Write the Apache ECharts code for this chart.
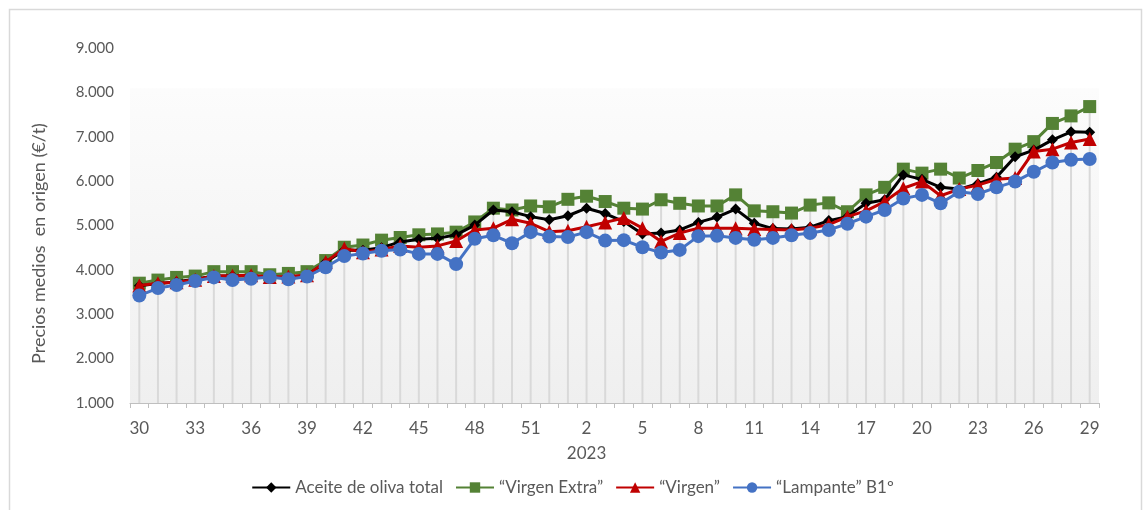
<!DOCTYPE html>
<html>
<head>
<meta charset="utf-8">
<script src="https://cdn.jsdelivr.net/npm/echarts@6/dist/echarts.min.js"></script>
<style>
  html, body { margin: 0; padding: 0; background: #fff; }
  #chart { width: 1145px; height: 510px; }
</style>
</head>
<body>
<div id="chart"></div>
<script>
// semanas (2022: 30-52, 2023: 1-29)
var weeks = ['30','31','32','33','34','35','36','37','38','39','40','41','42','43','44','45','46','47','48','49','50','51','52',
  '1','2','3','4','5','6','7','8','9','10','11','12','13','14','15','16','17','18','19','20','21','22','23','24','25','26','27','28','29'];
var yearLabel = '2023';
var yearIndex = 24; // semana 2 de 2023

var total = [3640,3690,3730,3790,3860,3860,3870,3830,3840,3880,4170,4450,4440,
  4500,4630,4690,4710,4790,5010,5350,5310,5200,5130,5220,5390,5270,
  5090,4810,4830,4900,5070,5190,5370,5050,4930,4920,4960,5110,5200,
  5500,5580,6140,6040,5860,5820,5940,6090,6550,6700,6930,7110,7100];
var virgenExtra = [3700,3770,3830,3860,3960,3960,3960,3890,3920,3960,4210,4510,4560,
  4670,4730,4790,4810,4850,5080,5390,5350,5440,5420,5590,5660,5540,
  5390,5370,5580,5500,5440,5440,5690,5330,5310,5280,5460,5510,5310,
  5690,5860,6270,6180,6270,6070,6240,6420,6720,6890,7300,7470,7680];
var virgen = [3650,3700,3720,3780,3860,3870,3880,3840,3850,3880,4180,4480,4400,
  4460,4540,4510,4540,4650,4900,4940,5140,5050,4860,4880,4970,5070,
  5170,4940,4640,4830,4940,4940,4940,4920,4910,4900,4940,5020,5200,
  5330,5540,5840,5990,5670,5820,5910,6040,6070,6670,6720,6870,6950];
var lampante = [3420,3590,3660,3750,3830,3770,3800,3840,3790,3850,4060,4310,4370,
  4430,4460,4360,4360,4130,4700,4780,4600,4850,4750,4740,4850,4660,
  4670,4510,4390,4450,4760,4770,4720,4680,4720,4780,4830,4900,5040,
  5200,5350,5610,5690,5500,5760,5710,5860,5990,6210,6420,6480,6500];

// lineas de caida: desde el maximo de cada semana
var dropLines = [];
for (var i = 0; i < weeks.length; i++) {
  dropLines[i] = Math.max(total[i], virgenExtra[i], virgen[i], lampante[i]);
}

function fmt(v) {
  return String(v).replace(/\B(?=(\d{3})+(?!\d))/g, '.');
}

var fontFam = 'Lato, "Open Sans", sans-serif';
var txtColor = '#595959';

var myChart = echarts.init(document.getElementById('chart'));
var option = {
  animation: false,
  textStyle: { fontFamily: fontFam },
  graphic: [{
    type: 'rect', left: 7, top: 7, silent: true,
    shape: { width: 1132, height: 530 },
    style: { fill: 'none', stroke: '#d9d9d9', lineWidth: 1.5 }
  }],
  grid: {
    left: 130, right: 46, top: 48, bottom: 107,
    show: true, borderWidth: 0,
    backgroundColor: {
      type: 'linear', x: 0, y: 0, x2: 0, y2: 1,
      colorStops: [
        { offset: 0, color: '#ffffff' },
        { offset: 0.112, color: '#ffffff' },
        { offset: 0.115, color: '#fcfcfc' },
        { offset: 1, color: '#efefef' }
      ]
    }
  },
  legend: {
    bottom: 9, left: 'center',
    itemWidth: 38, itemHeight: 13, itemGap: 12,
    textStyle: { color: txtColor, fontSize: 17, fontFamily: fontFam },
    data: ['Aceite de oliva total', '\u201cVirgen Extra\u201d', '\u201cVirgen\u201d', '\u201cLampante\u201d B1\u00ba']
  },
  xAxis: {
    type: 'category',
    data: weeks,
    boundaryGap: true,
    axisLine: { lineStyle: { color: '#bfbfbf', width: 1 } },
    axisTick: { show: true, interval: 0, length: 5, lineStyle: { color: '#bfbfbf' } },
    axisLabel: {
      interval: 2, color: txtColor, fontSize: 17, margin: 13, lineHeight: 25,
      fontFamily: fontFam,
      formatter: function (value, index) {
        return index === yearIndex ? value + '\n' + yearLabel : value;
      }
    },
    splitLine: { show: false }
  },
  yAxis: {
    type: 'value',
    min: 1000, max: 9000, interval: 1000,
    name: 'Precios medios  en origen (\u20ac/t)',
    nameLocation: 'middle', nameGap: 82,
    nameTextStyle: { color: txtColor, fontSize: 18, fontFamily: fontFam, padding: [0, 36, 0, 0] },
    axisLine: { show: false },
    axisTick: { show: false },
    splitLine: { show: false },
    axisLabel: { color: txtColor, fontSize: 15, margin: 16, fontFamily: fontFam, formatter: fmt }
  },
  series: [
    {
      name: 'drop', type: 'bar', data: dropLines, barWidth: 2, silent: true,
      itemStyle: { color: '#d9d9d9' }, z: 1, legendHoverLink: false
    },
    {
      name: 'Aceite de oliva total', type: 'line', data: total, z: 5,
      symbol: 'diamond', symbolSize: 11, showAllSymbol: true,
      lineStyle: { color: '#000000', width: 3 },
      itemStyle: { color: '#000000' }
    },
    {
      name: '\u201cVirgen Extra\u201d', type: 'line', data: virgenExtra, z: 4,
      symbol: 'rect', symbolSize: 13, showAllSymbol: true,
      lineStyle: { color: '#548235', width: 3 },
      itemStyle: { color: '#548235' }
    },
    {
      name: '\u201cVirgen\u201d', type: 'line', data: virgen, z: 6,
      symbol: 'triangle', symbolSize: 14, showAllSymbol: true,
      lineStyle: { color: '#c00000', width: 3 },
      itemStyle: { color: '#c00000' }
    },
    {
      name: '\u201cLampante\u201d B1\u00ba', type: 'line', data: lampante, z: 7,
      symbol: 'circle', symbolSize: 14, showAllSymbol: true,
      lineStyle: { color: '#4472c4', width: 3 },
      itemStyle: { color: '#4472c4' }
    }
  ]
};
myChart.setOption(option);
</script>
</body>
</html>
